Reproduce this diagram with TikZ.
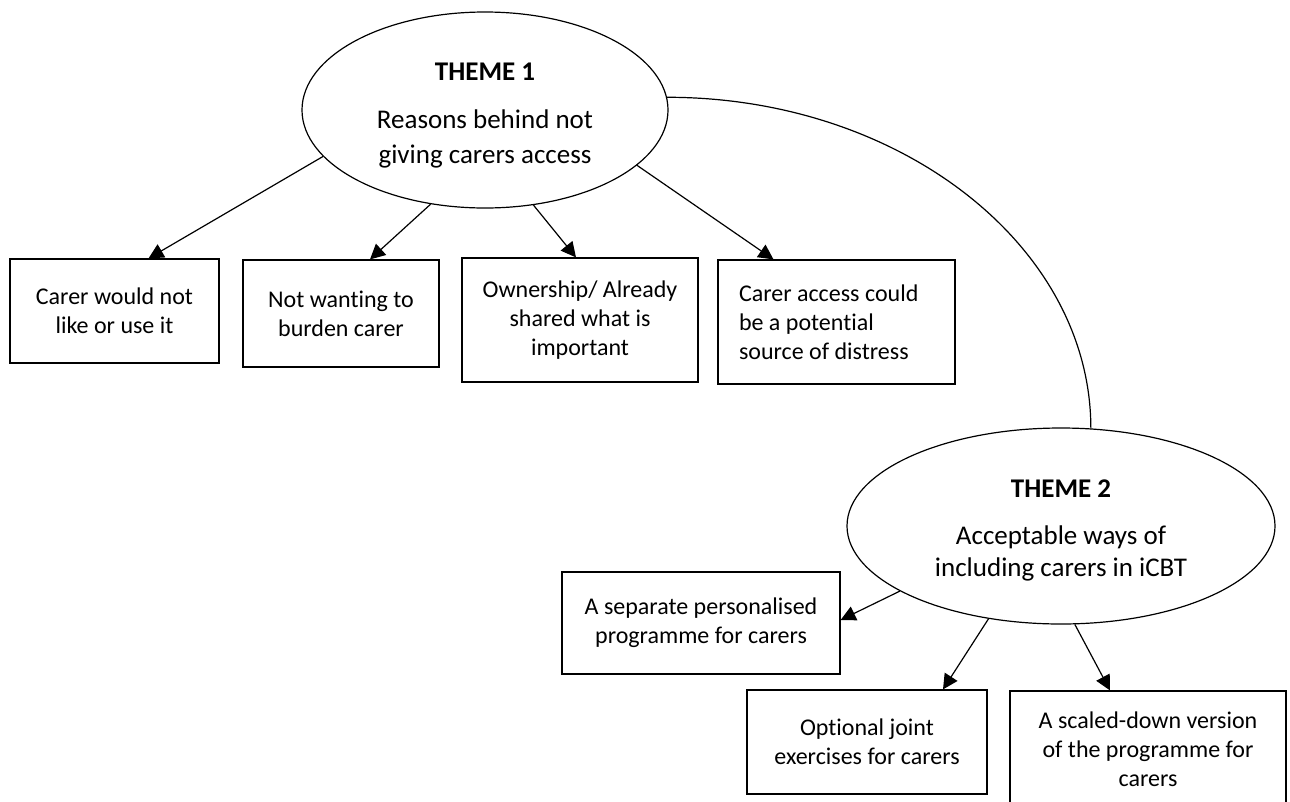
\documentclass[tikz,border=0pt]{standalone}
\usepackage{fontspec}
\setmainfont{Carlito}[Ligatures={NoCommon}]
\usetikzlibrary{arrows.meta,shapes.geometric,calc}
\begin{document}
\begin{tikzpicture}[x=1pt,y=-1pt,
  theme/.style={draw, ellipse, line width=1.2pt, inner sep=0pt},
  themetext/.style={align=center, inner sep=0pt, font={\fontsize{27}{35}\selectfont}},
  card/.style={draw, fill=white, line width=1.2pt, inner sep=0pt, align=center,
    font={\fontsize{24}{29}\selectfont}},
  arr/.style={line width=1.2pt, -{Triangle[length=15pt,width=15pt]}},
  link/.style={line width=1.2pt}]

% page
\fill[white] (0,0) rectangle (1290,801);
\useasboundingbox (0,0) rectangle (1290,801);
\clip (0,0) rectangle (1290,801);

% theme 1
\node[theme, minimum width=366pt, minimum height=196pt] (t1) at (485,110) {};
\node[themetext] (t1label) at (485,115.5)
  {\textbf{THEME 1}\\[13pt] Reasons behind not\\ giving carers access};

% theme 2
\node[theme, minimum width=428pt, minimum height=196pt] (t2) at (1061,526) {};
\node[themetext, font={\fontsize{27}{32}\selectfont}] (t2label) at (1061,530.4)
  {\textbf{THEME 2}\\[15.5pt] Acceptable ways of\\ including carers in iCBT};

% sub-themes of theme 1
\node[card, minimum width=209pt, minimum height=104pt] (b1) at (114.5,311)
  {Carer would not\\ like or use it};
\node[card, minimum width=196pt, minimum height=107pt] (b2) at (341,313.5)
  {Not wanting to\\ burden carer};
\node[card, minimum width=236pt, minimum height=124pt] (b3) at (580,320)
  {Ownership/ Already\\ shared what is\\ important};
\node[card, minimum width=237pt, minimum height=124pt, text width=195pt,
  align=flush left, inner xsep=21pt] (b4) at (836.5,322)
  {Carer access could\\ be a potential\\ source of distress};

% sub-themes of theme 2
\node[card, minimum width=278pt, minimum height=102pt] (b5) at (701,623)
  {A separate personalised\\ programme for carers};
\node[card, minimum width=240pt, minimum height=104pt] (b6) at (867,742)
  {Optional joint\\ exercises for carers};
\node[card, minimum width=276pt, minimum height=116pt] (b7) at (1148,749)
  {A scaled-down version\\ of the programme for\\ carers};

% connectors
\draw[arr] (t1.196) -- ($(b1.north)+(34,0)$);
\draw[arr] (t1.240) -- ($(b2.north)+(29,0)$);
\draw[arr] (t1.297) -- ($(b3.north)+(-4,0)$);
\draw[arr] (t1.340) -- ($(b4.north)+(-63,0)$);

\draw[arr] (t2.202) -- ($(b5.east)+(0,-3)$);
\draw[arr] (t2.232) -- ($(b6.north)+(76,0)$);
\draw[arr] (t2.278) -- ($(b7.north)+(-38,0)$);

\draw[link] (t1.4) .. controls +(234,0) and +(0,-182) .. (t2.73);
\end{tikzpicture}
\end{document}
